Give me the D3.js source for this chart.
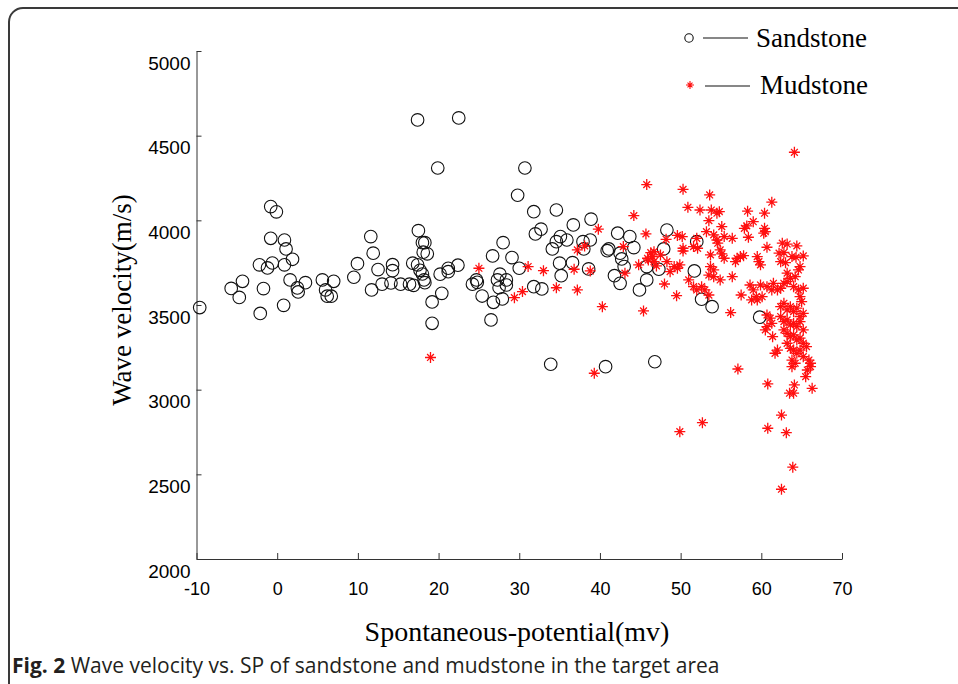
<!DOCTYPE html>
<meta charset="utf-8">
<style>
  body { margin: 0; background: #fff; }
  svg text { fill: #000; }
</style>
<body>
<script src="https://d3js.org/d3.v7.min.js"></script>
<script>

// sandstone: SP (mv) and wave velocity (m/s)
var sandSP = [-9.6, -5.7, -4.7, -4.3, -2.1, -2.2, -1.7, -1.2, -0.6, -0.8, -0.1, -0.8, 0.9, 1.1, 0.9, 1.9,
  0.8, 1.6, 2.5, 2.6, 3.5, 5.6, 7.0, 6.0, 6.2, 6.7, 9.5, 9.95, 11.6, 11.9, 12.5, 11.7, 13.0, 14.3, 14.3,
  14.1, 15.3, 16.4, 16.8, 16.9, 17.5, 17.4, 17.7, 18.0, 18.0, 18.3, 18.1, 18.6, 18.2, 18.3, 19.2, 19.2,
  17.4, 22.5, 19.9, 20.4, 20.2, 21.2, 21.2, 22.4, 24.2, 24.7, 24.8, 25.4, 26.7, 26.8, 26.5, 27.3, 27.6,
  27.9, 27.5, 28.4, 28.4, 28.0, 29.1, 30.0, 29.8, 30.7, 31.8, 32.8, 31.8, 32.0, 32.7, 34.6, 34.1, 34.6, 35.1,
  35.9, 36.7, 35.0, 35.2, 36.6, 37.9, 38.0, 38.8, 38.9, 38.6, 33.9, 40.7, 46.8, 40.9, 41.1, 42.2, 42.5,
  42.7, 43.0, 43.7, 44.2, 41.8, 42.5, 44.9, 45.8, 47.3, 48.3, 47.9, 45.8, 52.0, 51.7, 52.6, 53.9, 59.8];
var sandV = [3485, 3598, 3545, 3640, 3450, 3737, 3597, 3719, 3748, 4081, 4050, 3894, 3884, 3831, 3737, 3770,
  3498, 3648, 3601, 3577, 3632, 3648, 3640, 3589, 3552, 3552, 3664, 3744, 3904, 3806, 3709, 3589, 3623, 3738, 3703,
  3630, 3623, 3623, 3747, 3616, 3939, 3737, 3705, 3683, 3868, 3868, 3812, 3802, 3648, 3632, 3518, 3392,
  4593, 4605, 4309, 3569, 3682, 3717, 3697, 3735, 3623, 3648, 3634, 3553, 3790, 3516, 3412, 3648, 3682,
  3536, 3602, 3618, 3648, 3868, 3780, 3717, 4148, 4309, 3608, 3595, 4051, 3920, 3948, 4061, 3831, 3874, 3904,
  3884, 3973, 3747, 3673, 3750, 3874, 3831, 3884, 4007, 3713, 3150, 3136, 3165, 3821, 3831, 3924, 3806,
  3772, 3727, 3904, 3839, 3673, 3628, 3589, 3648, 3711, 3943, 3831, 3727, 3874, 3701, 3534, 3490, 3428];

// mudstone: SP (mv) and wave velocity (m/s)
var mudSP = [19.0, 25.0, 29.4, 30.4, 31.1, 33.0, 34.6, 36.8, 37.2, 38.8, 37.2, 38.1, 39.8, 40.3, 39.3,
  42.9, 43.1, 44.2, 44.8, 45.4, 45.7, 45.8, 46.3, 46.5, 46.7, 47.0, 47.5, 48.2, 48.3, 48.0, 64.1, 50.3,
  53.6, 50.9, 52.4, 53.8, 54.5, 54.8, 61.3, 58.3, 60.4, 53.5, 55.1, 59.0, 58.2, 57.9, 60.4, 60.5, 60.3,
  58.4, 49.6, 50.2, 53.2, 52.0, 54.1, 54.5, 55.4, 56.4, 54.6, 50.3, 50.3, 51.6, 52.1, 46.7, 45.9, 46.0,
  53.7, 54.9, 55.1, 55.4, 53.7, 54.1, 57.0, 57.4, 57.8, 56.8, 59.5, 59.7, 59.9, 60.7, 62.6, 63.2, 64.4,
  65.2, 62.2, 62.8, 63.8, 64.3, 62.4, 63.0, 64.8, 64.6, 49.2, 49.6, 48.7, 49.9, 49.5, 51.0, 51.6, 52.0,
  52.6, 53.0, 53.5, 53.5, 54.1, 54.9, 56.4, 56.2, 57.1, 58.6, 59.0, 59.4, 58.8, 57.5, 59.9, 60.7, 61.5,
  62.0, 59.5, 60.1, 61.3, 62.4, 62.8, 63.2, 64.0, 64.6, 65.2, 64.8, 65.0, 63.2, 63.6, 64.2,
  62.4, 62.8, 63.2, 63.6, 64.0, 64.4, 64.8, 65.2, 62.4, 62.8, 63.2, 63.6, 64.0, 64.4, 64.8, 65.2,
  62.8, 63.2, 63.6, 64.0, 64.4, 64.8, 65.2, 65.6, 63.2, 63.6, 64.0, 64.4, 64.8, 65.2, 63.8, 64.2, 66.1,
  60.7, 61.1, 61.3, 60.7, 61.4, 60.5, 62.0, 61.7, 63.8, 60.8, 64.1, 63.5, 64.0, 66.3, 65.9, 66.1, 65.7,
  65.5, 62.5, 60.8, 63.1, 49.9, 52.7, 63.9, 62.5];
var mudV = [3190, 3717, 3543, 3579, 3727, 3703, 3602, 3711, 3589, 3701, 3825, 3849, 3948, 3490, 3097,
  3845, 3688, 4028, 3737, 3465, 3920, 4211, 3809, 3786, 3756, 3731, 3796, 3888, 3756, 3624, 4402, 4183,
  4150, 4077, 4061, 4061, 4042, 4051, 4107, 4054, 4042, 3998, 3963, 3992, 3967, 3953, 3953, 3933, 3924,
  3900, 3911, 3904, 3933, 3894, 3914, 3884, 3904, 3894, 3865, 3819, 3835, 3845, 3835, 3815, 3776, 3766,
  3796, 3825, 3802, 3776, 3727, 3707, 3776, 3786, 3791, 3756, 3786, 3756, 3737, 3841, 3865, 3860, 3849,
  3790, 3806, 3810, 3786, 3782, 3756, 3750, 3727, 3707, 3727, 3717, 3697, 3737, 3555, 3648, 3608, 3589,
  3608, 3589, 3559, 3677, 3667, 3648, 3667, 3455, 3122, 3618, 3589, 3549, 3530, 3559, 3618, 3608, 3628,
  3589, 3530, 3549, 3589, 3599, 3628, 3638, 3608, 3589, 3599, 3549, 3520, 3688, 3658, 3667,
  3490, 3510, 3471, 3490, 3461, 3481, 3432, 3451, 3432, 3402, 3412, 3382, 3392, 3372, 3402, 3353,
  3353, 3333, 3313, 3323, 3294, 3304, 3274, 3254, 3274, 3244, 3234, 3215, 3234, 3195, 3175, 3156, 3136,
  3441, 3422, 3392, 3372, 3313, 3353, 3234, 3215, 3136, 3034, 3028, 2979, 2979, 3008, 3175, 3156, 3116,
  3077, 2850, 2772, 2746, 2752, 2805, 2542, 2412];

var xTicks = [-10, 0, 10, 20, 30, 40, 50, 60, 70];
var yTicks = [2000, 2500, 3000, 3500, 4000, 4500, 5000];
var seriesNames = ["Sandstone", "Mudstone"];

var width = 958,
    height = 684;

var svg = d3.select("body").append("svg")
    .attr("width", width)
    .attr("height", height);

// outer figure frame (rounded, runs off the right and bottom)
svg.append("rect")
    .attr("x", 9).attr("y", 8)
    .attr("width", 1000).attr("height", 1000)
    .attr("rx", 14)
    .attr("fill", "none")
    .attr("stroke", "#3a3a3a")
    .attr("stroke-width", 2);

var x = d3.scaleLinear().domain([-10, 70]).range([196.5, 842]);
var y = d3.scaleLinear().domain([2000, 5000]).range([559, 51]);

var sans = "'Liberation Sans', Arial, sans-serif";
var serif = "'Liberation Serif', 'Times New Roman', serif";
var plain = function(d) { return String(d); };

var yAxis = svg.append("g")
    .attr("transform", "translate(" + x.range()[0] + ",0)")
    .call(d3.axisLeft(y).tickValues(yTicks).tickFormat(plain)
      .tickSizeInner(-5).tickSizeOuter(0).tickPadding(6));
yAxis.selectAll("text")
    .attr("transform", "translate(0,12)")
    .style("font-family", sans).style("font-size", "19px");

var xAxis = svg.append("g")
    .attr("transform", "translate(0," + y.range()[0] + ")")
    .call(d3.axisBottom(x).tickValues(xTicks).tickFormat(plain)
      .tickSizeInner(-6).tickSizeOuter(0).tickPadding(23));
xAxis.selectAll("text")
    .style("font-family", sans).style("font-size", "18px");

svg.selectAll(".domain, .tick line").attr("stroke", "#333");

// axis titles
svg.append("text")
    .attr("transform", "translate(131,300) rotate(-90)")
    .attr("text-anchor", "middle")
    .style("font-family", serif).style("font-size", "27px")
    .text("Wave velocity(m/s)");

svg.append("text")
    .attr("x", 517).attr("y", 641)
    .attr("text-anchor", "middle")
    .style("font-family", serif).style("font-size", "28px")
    .text("Spontaneous-potential(mv)");

function starPath(r) {
  var a = r * 0.62;
  return "M" + (-r) + ",0L" + r + ",0M0," + (-r) + "L0," + r +
         "M" + (-a) + "," + (-a) + "L" + a + "," + a + "M" + (-a) + "," + a + "L" + a + "," + (-a);
}

var sand = d3.range(sandSP.length).map(function(i) { return {sp: sandSP[i], v: sandV[i]}; });
var mud = d3.range(mudSP.length).map(function(i) { return {sp: mudSP[i], v: mudV[i]}; });

svg.append("g").selectAll("circle")
  .data(sand)
  .enter().append("circle")
    .attr("cx", function(d) { return x(d.sp); })
    .attr("cy", function(d) { return y(d.v); })
    .attr("r", 6.3)
    .attr("fill", "none")
    .attr("stroke", "#111")
    .attr("stroke-width", 1.1);

svg.append("g").selectAll("path")
  .data(mud)
  .enter().append("path")
    .attr("transform", function(d) { return "translate(" + x(d.sp) + "," + y(d.v) + ")"; })
    .attr("d", starPath(5.5))
    .attr("fill", "none")
    .attr("stroke", "#ff1010")
    .attr("stroke-width", 1.3);

// legend
var legend = svg.append("g");
legend.append("circle")
    .attr("cx", 689).attr("cy", 38).attr("r", 4.2)
    .attr("fill", "none").attr("stroke", "#111").attr("stroke-width", 1.1);
legend.append("path")
    .attr("transform", "translate(690,85)")
    .attr("d", starPath(4))
    .attr("fill", "none").attr("stroke", "#ff1010").attr("stroke-width", 1.1);
legend.selectAll("line")
  .data([[703, 748, 38], [705, 750, 86]])
  .enter().append("line")
    .attr("x1", function(d) { return d[0]; })
    .attr("x2", function(d) { return d[1]; })
    .attr("y1", function(d) { return d[2]; })
    .attr("y2", function(d) { return d[2]; })
    .attr("stroke", "#111").attr("stroke-width", 1.2);
legend.selectAll("text")
  .data(seriesNames)
  .enter().append("text")
    .attr("x", function(d, i) { return i === 0 ? 756 : 760; })
    .attr("y", function(d, i) { return i === 0 ? 47 : 94; })
    .style("font-family", serif).style("font-size", "27px")
    .text(function(d) { return d; });

// caption
var cap = svg.append("text")
    .attr("x", 12).attr("y", 673)
    .style("font-family", "'Open Sans', sans-serif").style("font-size", "21px")
    .style("fill", "#231f20");
cap.append("tspan").style("font-weight", "bold").text("Fig. 2");
cap.append("tspan").text(" Wave velocity vs. SP of sandstone and mudstone in the target area");

</script>
</body>
